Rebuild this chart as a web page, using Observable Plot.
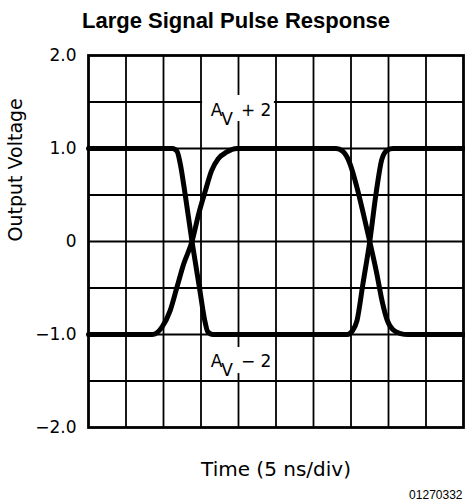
<!DOCTYPE html>
<html>
<head>
<meta charset="utf-8">
<script src="https://cdn.jsdelivr.net/npm/d3@7"></script>
<script src="https://cdn.jsdelivr.net/npm/@observablehq/plot@0.6"></script>
<style>
  html, body { margin: 0; padding: 0; background: #fff; }
  #chart svg { display: block; }
</style>
</head>
<body>
<div id="chart"></div>
<script>
// ---- text ----
const titleText = "Large Signal Pulse Response";
const xLabel = "Time (5 ns/div)";
const yLabel = "Output Voltage";
const figureId = "01270332";

// ---- axes / grid (time in ns, 5 ns per division; voltage in V) ----
const xDomain = [0, 50];
const yDomain = [-2, 2];
const yTickValues = [-2, -1, 0, 1, 2];
const xGridNs = [5, 10, 15, 20, 25, 30, 35, 40, 45];
const yGridV = [-1.5, -1, -0.5, 0, 0.5, 1, 1.5];

// ---- trace A: fast edges (starts high, falls, rises again) ----
const traceA_t = [0, 11.2, 11.8, 12.2, 12.9, 13.8, 14.8, 15.5, 15.9, 16.6, 34.5, 35.2, 35.8, 36.6, 37.5, 38.4, 39.1, 39.8, 40.6, 50];
const traceA_v = [1.0, 1.0, 0.97, 0.85, 0.5, 0.0, -0.5, -0.85, -0.97, -1.0, -1.0, -0.96, -0.85, -0.45, 0.0, 0.55, 0.88, 0.98, 1.0, 1.0];

// ---- trace B: slow edges (starts low, rises, falls again) ----
const traceB_t = [0, 8.5, 9.8, 10.9, 11.8, 12.7, 13.8, 14.7, 15.6, 16.4, 17.3, 18.4, 19.8, 33.0, 33.9, 34.8, 35.8, 36.7, 37.5, 38.4, 39.2, 39.8, 40.6, 41.6, 42.6, 50];
const traceB_v = [-1.0, -1.0, -0.92, -0.74, -0.49, -0.24, 0.0, 0.30, 0.55, 0.76, 0.89, 0.96, 1.0, 1.0, 0.97, 0.85, 0.58, 0.28, 0.0, -0.33, -0.66, -0.84, -0.95, -0.99, -1.0, -1.0];

// ---- gain annotations ----
const gainText = ["+ 2", "\u2212 2"];
const gainT = [20, 20];
const gainV = [1.406, -1.289];
const boxT1 = [15, 15];
const boxT2 = [25, 25];
const boxV1 = [1.29, -1.42];
const boxV2 = [1.57, -1.14];

// build tables
const traces = [
  ...traceA_t.map((t, i) => ({trace: "A", t, v: traceA_v[i]})),
  ...traceB_t.map((t, i) => ({trace: "B", t, v: traceB_v[i]}))
];
const gains = gainText.map((g, i) => ({
  gain: g, t: gainT[i], v: gainV[i],
  t1: boxT1[i], t2: boxT2[i], v1: boxV1[i], v2: boxV2[i]
}));

const sans = "DejaVu Sans, sans-serif";
const arial = "Liberation Sans, Arial, Helvetica, sans-serif";

const plot = Plot.plot({
  width: 465,
  height: 504,
  marginLeft: 88,
  marginRight: 2,
  marginTop: 55,
  marginBottom: 77,
  style: {fontFamily: sans, background: "#fff", color: "#000"},
  x: {domain: xDomain, axis: null},
  y: {domain: yDomain, axis: null},
  marks: [
    Plot.ruleX(xGridNs, {stroke: "#000", strokeWidth: 1.8}),
    Plot.ruleY(yGridV, {stroke: "#000", strokeWidth: 1.8}),
    Plot.rect(gains, {x1: "t1", x2: "t2", y1: "v1", y2: "v2", fill: "#fff", insetLeft: 1.6, insetRight: 1.6}),
    Plot.text(gains, {x: "t", y: "v", text: d => "AV" + d.gain, fontSize: 17, fontFamily: sans, fill: "#000", dx: 2.6, lineAnchor: "middle"}),
    Plot.line(traces, {x: "t", y: "v", z: "trace", curve: "monotone-x", stroke: "#000", strokeWidth: 5, strokeLinejoin: "round"}),
    Plot.frame({stroke: "#000", strokeWidth: 2.8}),
    Plot.axisY(yTickValues, {
      tickSize: 0, tickPadding: 12, fontSize: 17, fontFamily: sans, label: null,
      tickFormat: d => d === 0 ? "0" : d3.format(".1f")(d)
    }),
    Plot.text([titleText], {text: d => d, frameAnchor: "top", dx: -40, dy: -35, fontSize: 22, fontWeight: "bold", fontFamily: arial, lineAnchor: "middle"}),
    Plot.text([xLabel], {text: d => d, frameAnchor: "bottom", dy: 42, fontSize: 20, fontFamily: sans, lineAnchor: "middle"}),
    Plot.text([yLabel], {text: d => d, frameAnchor: "left", rotate: -90, dx: -73, fontSize: 19, fontFamily: sans, lineAnchor: "middle"}),
    Plot.text([figureId], {text: d => d, frameAnchor: "bottom-right", textAnchor: "end", dx: -1, dy: 68, fontSize: 12, fontFamily: arial, lineAnchor: "middle"})
  ]
});

// turn "AV..." labels into A with subscript V
d3.select(plot).selectAll("text").each(function() {
  const el = d3.select(this);
  const s = el.text();
  if (s.startsWith("AV")) {
    const rest = s.slice(2);
    el.text(null);
    el.append("tspan").text("A");
    el.append("tspan").attr("dy", 9).text("V");
    el.append("tspan").attr("dy", -9).attr("dx", 8).text(rest);
  }
});

document.getElementById("chart").appendChild(plot);
</script>
</body>
</html>
